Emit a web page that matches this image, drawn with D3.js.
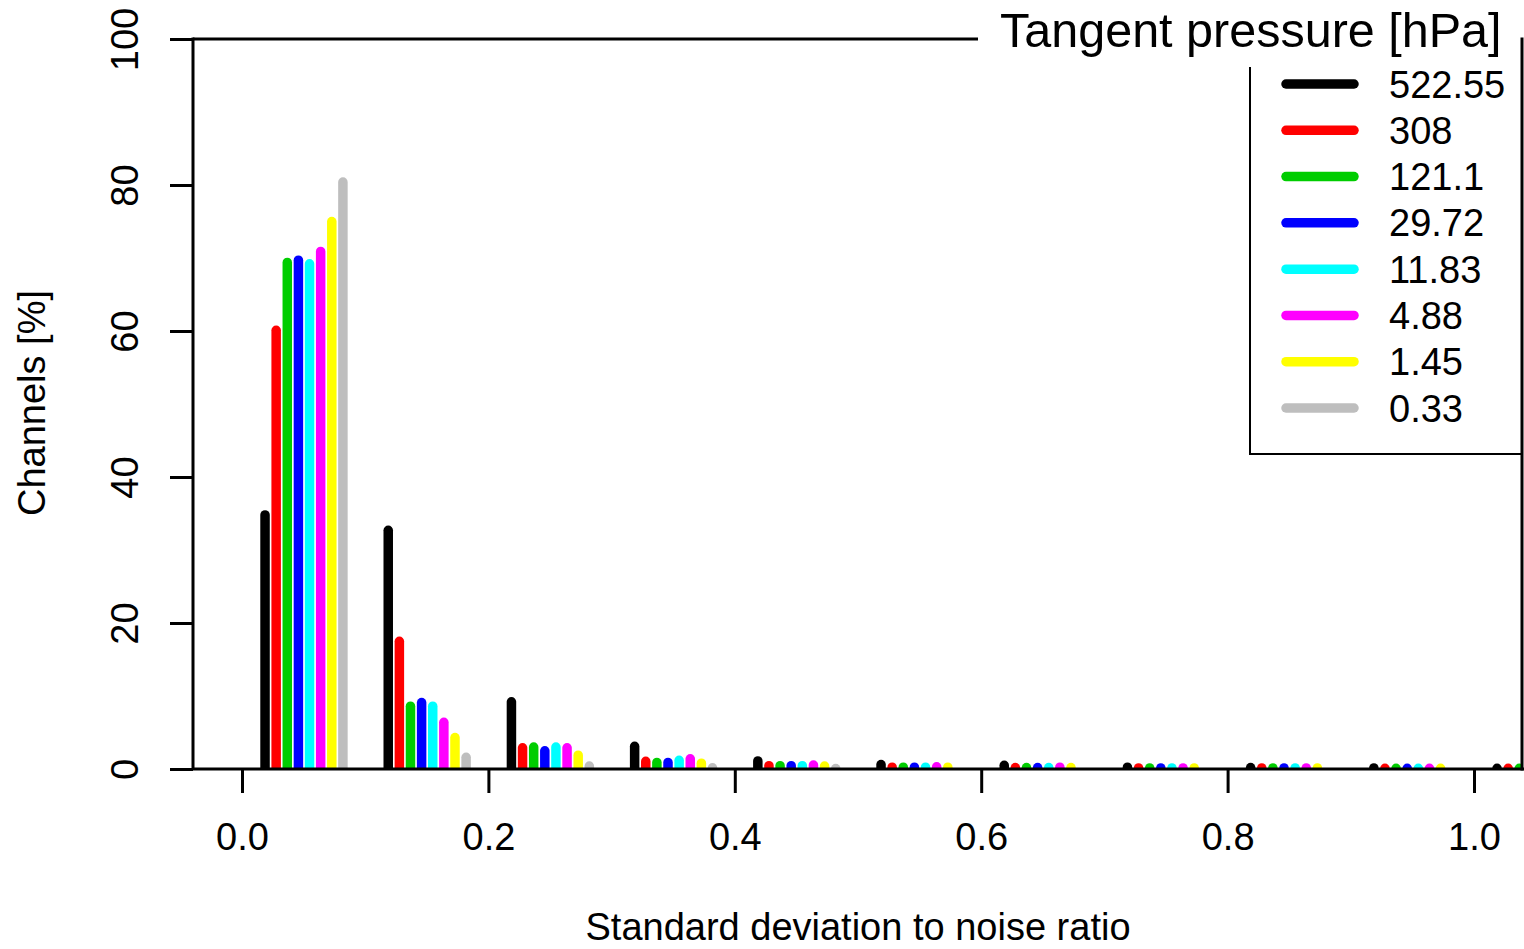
<!DOCTYPE html>
<html>
<head>
<meta charset="utf-8">
<script src="https://cdn.jsdelivr.net/npm/d3@7"></script>
<style>
  html, body { margin: 0; padding: 0; background: #fff; }
  svg { display: block; font-family: "Liberation Sans", Arial, Helvetica, sans-serif; }
</style>
</head>
<body>
<svg id="chart" width="1524" height="949"></svg>
<script>
// ---- data ----
const pressures = ["522.55", "308", "121.1", "29.72", "11.83", "4.88", "1.45", "0.33"];
const colors = ["#000000", "#FF0000", "#00CD00", "#0000FF", "#00FFFF", "#FF00FF", "#FFFF00", "#BEBEBE"];
const binStarts = [0.0, 0.1, 0.2, 0.3, 0.4, 0.5, 0.6, 0.7, 0.8, 0.9, 1.0];
const xTicks = [0.0, 0.2, 0.4, 0.6, 0.8, 1.0];
const yTicks = [0, 20, 40, 60, 80, 100];

const p522_55 = [34.8, 32.7, 9.2, 3.1, 1.1, 0.6, 0.5, 0.25, 0.2, 0.15, 0.1];
const p308    = [60.1, 17.5, 2.9, 1.05, 0.45, 0.25, 0.2, 0.15, 0.15, 0.1, 0.1];
const p121_1  = [69.4, 8.6, 3.0, 0.9, 0.45, 0.25, 0.2, 0.15, 0.15, 0.1, 0.1];
const p29_72  = [69.7, 9.1, 2.5, 0.9, 0.45, 0.25, 0.2, 0.15, 0.15, 0.1, 0.1];
const p11_83  = [69.2, 8.6, 3.0, 1.2, 0.45, 0.25, 0.2, 0.15, 0.15, 0.1, 0.1];
const p4_88   = [70.9, 6.4, 2.9, 1.4, 0.55, 0.3, 0.25, 0.15, 0.15, 0.1, 0.1];
const p1_45   = [75.0, 4.3, 1.9, 0.8, 0.4, 0.25, 0.2, 0.15, 0.15, 0.1, 0.1];
const p0_33   = [80.4, 1.6, 0.4, 0.16, 0.07, 0, 0, 0, 0, 0, 0];
const seriesValues = [p522_55, p308, p121_1, p29_72, p11_83, p4_88, p1_45, p0_33];

// ---- layout ----
const svg = d3.select("#chart");
const plot = { left: 193, right: 1522, top: 39, bottom: 769 };
const x = d3.scaleLinear().domain([0, 1]).range([242, 1474]);
const y = d3.scaleLinear().domain([0, 100]).range([plot.bottom, plot.top]);
const firstOffset = 0.0187, step = 0.00903;
const barW = 9.5;

// clip for bars
svg.append("defs").append("clipPath").attr("id", "clip")
  .append("rect").attr("x", plot.left).attr("y", 0)
  .attr("width", plot.right - plot.left).attr("height", plot.bottom);

// bars (R type="h" style lines with round ends)
const barsG = svg.append("g").attr("clip-path", "url(#clip)");
const barData = [];
seriesValues.forEach((vals, k) => {
  vals.forEach((v, i) => {
    if (v > 0) barData.push({ k, x: binStarts[i] + firstOffset + k * step, v });
  });
});
barsG.selectAll("line.bar").data(barData).enter().append("line")
  .attr("class", "bar")
  .attr("x1", d => x(d.x)).attr("x2", d => x(d.x))
  .attr("y1", y(0)).attr("y2", d => y(d.v))
  .attr("stroke", d => colors[d.k])
  .attr("stroke-width", barW)
  .attr("stroke-linecap", "round");

// frame lines
const lineW = 3;
function hl(x1, x2, yy, w) {
  svg.append("line").attr("x1", x1).attr("x2", x2).attr("y1", yy).attr("y2", yy)
    .attr("stroke", "#000").attr("stroke-width", w || lineW);
}
function vl(xx, y1, y2, w) {
  svg.append("line").attr("x1", xx).attr("x2", xx).attr("y1", y1).attr("y2", y2)
    .attr("stroke", "#000").attr("stroke-width", w || lineW);
}
vl(plot.left, plot.top - 1.5, plot.bottom);       // left box line
hl(plot.left, 978, plot.top);                      // top box line (interrupted by legend title)
hl(plot.left, 1524, plot.bottom);                  // bottom box line
vl(plot.right, plot.top - 1.5, plot.bottom + 1.5); // right box line

// y axis
const yAxis = d3.axisLeft(y).tickValues(yTicks).tickSize(23).tickSizeOuter(0).tickFormat(d3.format("d"));
const yG = svg.append("g").attr("transform", `translate(${plot.left},0)`).call(yAxis);
yG.select(".domain").remove();
yG.selectAll(".tick line").attr("stroke", "#000").attr("stroke-width", lineW);
yG.selectAll(".tick text")
  .attr("x", null).attr("dy", null)
  .attr("transform", `translate(${138 - plot.left},0) rotate(-90)`)
  .attr("text-anchor", "middle")
  .attr("font-size", 38).attr("fill", "#000")
  .attr("font-family", "'Liberation Sans', Arial, sans-serif");

// x axis
const xAxis = d3.axisBottom(x).tickValues(xTicks).tickSize(24).tickSizeOuter(0).tickFormat(d3.format(".1f"));
const xG = svg.append("g").attr("transform", `translate(0,${plot.bottom})`).call(xAxis);
xG.select(".domain").remove();
xG.selectAll(".tick line").attr("stroke", "#000").attr("stroke-width", lineW);
xG.selectAll(".tick text")
  .attr("y", 850 - plot.bottom).attr("dy", null)
  .attr("text-anchor", "middle")
  .attr("font-size", 38).attr("fill", "#000")
  .attr("font-family", "'Liberation Sans', Arial, sans-serif");

// axis titles
svg.append("text").attr("x", 858).attr("y", 940).attr("text-anchor", "middle")
  .attr("font-size", 38).text("Standard deviation to noise ratio");
svg.append("text").attr("transform", "translate(45,403) rotate(-90)").attr("text-anchor", "middle")
  .attr("font-size", 38).text("Channels [%]");

// legend
svg.append("text").attr("x", 1000).attr("y", 47).attr("font-size", 48.5).text("Tangent pressure [hPa]");
vl(1250, 67, 455, 2);
hl(1249, 1522, 454, 2);
const legY = d3.scaleLinear().domain([0, pressures.length - 1]).range([84, 408]);
const legG = svg.append("g");
legG.selectAll("line").data(pressures).enter().append("line")
  .attr("x1", 1286).attr("x2", 1354)
  .attr("y1", (d, i) => legY(i)).attr("y2", (d, i) => legY(i))
  .attr("stroke", (d, i) => colors[i]).attr("stroke-width", barW).attr("stroke-linecap", "round");
legG.selectAll("text").data(pressures).enter().append("text")
  .attr("x", 1389).attr("y", (d, i) => legY(i) + 13.5)
  .attr("font-size", 38).text(d => d);
</script>
</body>
</html>
